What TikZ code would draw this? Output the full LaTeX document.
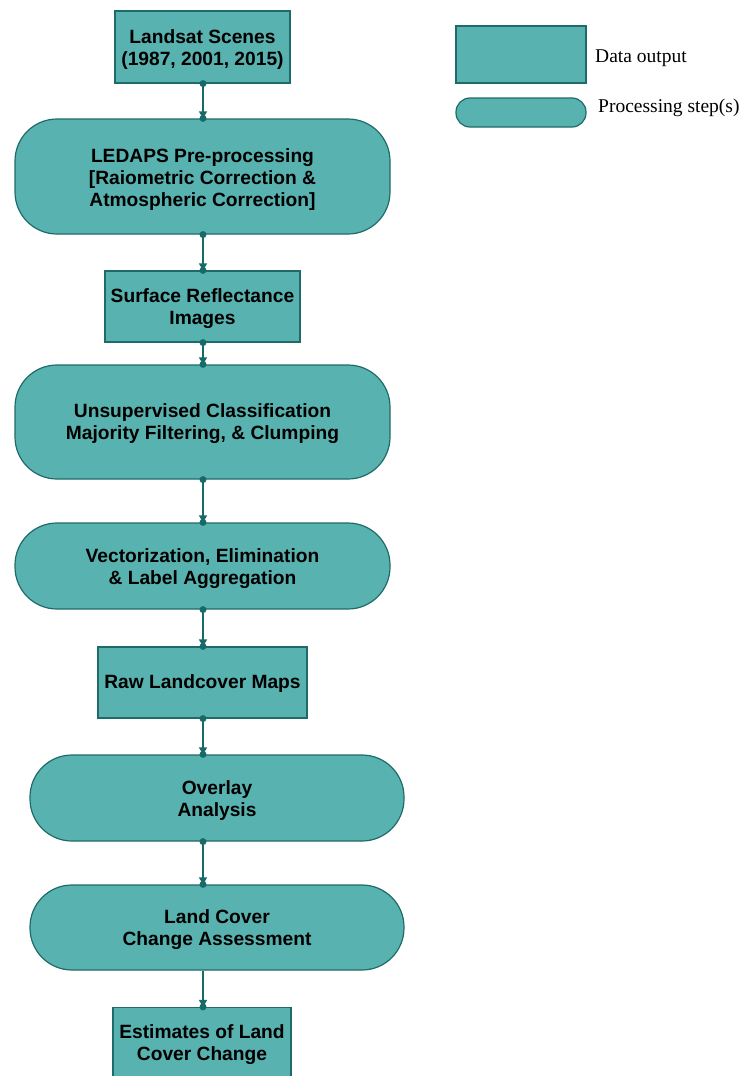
\documentclass[tikz,border=0pt]{standalone}
\usepackage{fontspec}
\setmainfont{Liberation Sans}
\newfontfamily\legfont{Liberation Serif}
\usetikzlibrary{arrows.meta,calc}
\definecolor{tealfill}{HTML}{58B2AF}
\definecolor{tealline}{HTML}{1E6B69}
\definecolor{conn}{HTML}{186A68}
\begin{document}
\begin{tikzpicture}[x=1pt,y=-1pt,
  databox/.style={draw=tealline,fill=tealfill,line width=1.2pt,inner sep=0pt},
  procbox/.style={databox,rounded corners=42pt},
  txt/.style={align=center,inner sep=0pt,font=\fontsize{19.2}{22}\selectfont\bfseries},
  link/.style={draw=conn,line width=1.6pt,-{Triangle[width=8pt,length=7pt]}},
  dotc/.style={circle,fill=conn,inner sep=0pt,minimum size=7pt},
  legtext/.style={anchor=west,font=\fontsize{19.5}{22}\selectfont\legfont,inner sep=0pt}]
\useasboundingbox (0,0) rectangle (740,1076);
\coordinate (col) at (203,0);
\node[databox,minimum width=175pt,minimum height=72pt] (ls) at (202.5,47) {};
\node[procbox,minimum width=375pt,minimum height=115pt] (led) at (202.5,176.5) {};
\node[databox,minimum width=195pt,minimum height=71pt] (sr) at (202.5,306.5) {};
\node[procbox,minimum width=375pt,minimum height=114pt] (uc) at (202.5,422) {};
\node[procbox,minimum width=375pt,minimum height=86pt] (vec) at (202.5,566) {};
\node[databox,minimum width=209pt,minimum height=71pt] (raw) at (202.5,682.5) {};
\node[procbox,minimum width=374pt,minimum height=86pt] (ov) at (217,798) {};
\node[procbox,minimum width=374pt,minimum height=85pt] (lc) at (217,927.5) {};
\node[databox,minimum width=178pt,minimum height=69pt] (est) at (202,1042) {};
% texts
\node[txt] (ls-t) at ($(ls)+(0,2.5)$) {Landsat Scenes\\(1987, 2001, 2015)};
\node[txt] (led-t) at ($(led)+(0,3)$) {LEDAPS Pre-processing\\{}[Raiometric Correction \&\\Atmospheric Correction]};
\node[txt] (sr-t) at ($(sr)+(0,2)$) {Surface Reflectance\\Images};
\node[txt] (uc-t) at ($(uc)+(0,2)$) {Unsupervised Classification\\Majority Filtering, \& Clumping};
\node[txt] (vec-t) at ($(vec)+(0,2.5)$) {Vectorization, Elimination\\\& Label Aggregation};
\node[txt] (raw-t) at ($(raw)+(0,1.5)$) {Raw Landcover Maps};
\node[txt] (ov-t) at ($(ov)+(0,2.5)$) {Overlay\\Analysis};
\node[txt] (lc-t) at ($(lc)+(0,2.5)$) {Land Cover\\Change Assessment};
\node[txt] (est-t) at ($(est)+(0,2.5)$) {Estimates of Land\\Cover Change};
% legend
\node[databox,minimum width=130pt,minimum height=57pt] (lg1) at (521,54.5) {};
\node[procbox,rounded corners=14pt,minimum width=130pt,minimum height=29pt] (lg2) at (521,112.5) {};
\node[legtext] (lt1) at (595,58) {Data output};
\node[legtext] (lt2) at (598,108) {Processing step(s)};
% connectors
\foreach \a/\b in {ls/led,led/sr,sr/uc,uc/vec,vec/raw,raw/ov,ov/lc}{
  \draw[link] (\a.south -| col) -- (\b.north -| col);
  \node[dotc] at (\a.south -| col) {};
  \node[dotc] at (\b.north -| col) {};
}
\draw[link] (lc.south -| col) -- (est.north -| col);
\node[dotc] at (est.north -| col) {};
\end{tikzpicture}
\end{document}
